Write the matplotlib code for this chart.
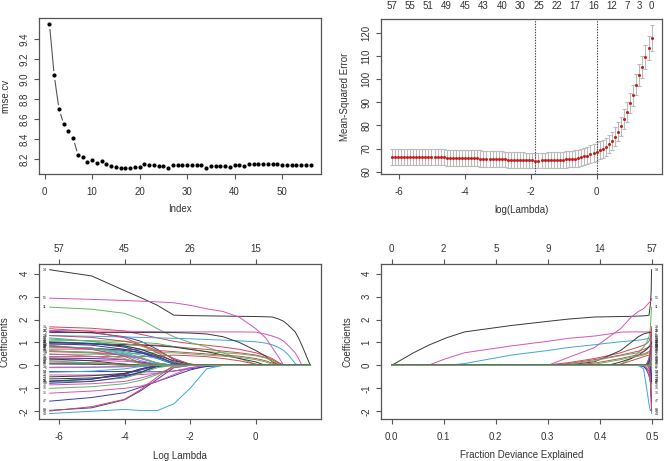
"""glmnet-style diagnostics: CV rmse, cv.glmnet curve and coefficient paths."""
import numpy as np
import matplotlib
matplotlib.use('Agg')
import matplotlib.pyplot as plt

plt.rcParams['font.family'] = ['Liberation Sans', 'DejaVu Sans']
plt.rcParams['axes.unicode_minus'] = False

# ---- top left: rmse.cv by index ----
rmse_cv = [9.553, 9.037, 8.703, 8.55, 8.483, 8.407, 8.243, 8.217, 8.173, 8.187,
           8.163, 8.183, 8.15, 8.127, 8.12, 8.107, 8.11, 8.107, 8.123, 8.123,
           8.147, 8.137, 8.14, 8.127, 8.127, 8.11, 8.14, 8.137, 8.137, 8.137,
           8.137, 8.137, 8.137, 8.11, 8.127, 8.127, 8.127, 8.127, 8.123, 8.14,
           8.14, 8.133, 8.15, 8.147, 8.147, 8.147, 8.147, 8.147, 8.147, 8.14,
           8.14, 8.14, 8.14, 8.14, 8.14, 8.14]

# ---- top right: cv.glmnet curve (lambda sequence, largest first) ----
log_lambda_max = 1.663
log_lambda_step = 0.0928
cv_mean = [117.8, 113.5, 109.5, 105.2, 101.9, 97.6, 93.0, 89.7, 85.8, 82.7,
           79.6, 77.2, 75.2, 73.3, 71.9, 70.7, 69.9, 69.3, 68.7, 68.1,
           67.5, 67.0, 66.6, 66.2, 65.9, 65.7, 65.5, 65.4, 65.3, 65.2,
           65.1, 65.05, 65.0, 65.0, 64.95, 64.9, 64.9, 64.85, 64.85, 64.9,
           64.9, 64.95, 65.0, 65.0, 65.05, 65.1, 65.1, 65.2, 65.3, 65.4,
           65.4, 65.5, 65.5, 65.6, 65.6, 65.7, 65.7, 65.8, 65.8, 65.9,
           65.9, 65.9, 66.0, 66.0, 66.0, 66.1, 66.1, 66.1, 66.2, 66.2,
           66.2, 66.2, 66.3, 66.3, 66.3, 66.3, 66.3, 66.4, 66.4, 66.4,
           66.4, 66.4, 66.4, 66.4, 66.5, 66.5]
cv_sd = [5.7, 5.35, 5.1, 4.9, 4.75, 4.6, 4.5, 4.4, 4.3, 4.2,
         4.15, 4.1, 4.05, 4.0, 4.0, 3.95, 3.95, 3.95, 3.95, 3.9,
         3.85, 3.8, 3.75, 3.7, 3.65, 3.6, 3.55, 3.5, 3.5, 3.45,
         3.45, 3.4, 3.4, 3.4, 3.4, 3.35, 3.35, 3.35, 3.35, 3.35,
         3.35, 3.35, 3.4, 3.4, 3.4, 3.4, 3.4, 3.4, 3.4, 3.45,
         3.45, 3.45, 3.45, 3.45, 3.45, 3.45, 3.5, 3.5, 3.5, 3.5,
         3.5, 3.5, 3.5, 3.5, 3.5, 3.5, 3.5, 3.5, 3.5, 3.5,
         3.5, 3.5, 3.5, 3.5, 3.5, 3.5, 3.5, 3.5, 3.5, 3.5,
         3.5, 3.5, 3.5, 3.5, 3.5, 3.5]
idx_lambda_min = 38
idx_lambda_1se = 18
nz_label_idx = [85, 79, 73, 67, 61, 55, 49, 43, 37, 31, 25, 19, 13, 8, 4, 0]
nz_labels = ['57', '55', '51', '49', '45', '43', '40', '30', '25', '22',
             '17', '16', '12', '7', '3', '0']

# ---- bottom: coefficient paths ----
# log lambda knots (largest first) and deviance ratio at each knot
path_log_lambda = [1.66, 1.5, 1.4, 1.3, 1.2, 1.0, 0.85, 0.7, 0.5, 0.3, 0.0,
                   -0.5, -1.0, -1.5, -2.0, -2.5, -3.0, -3.5, -4.0, -5.0, -6.28]
path_dev_ratio = [0.0, 0.042, 0.072, 0.105, 0.14, 0.23, 0.30, 0.34, 0.39, 0.415,
                  0.44, 0.46, 0.474, 0.484, 0.490, 0.4945, 0.497, 0.498, 0.4987,
                  0.4992, 0.4995]
# each path lists the coefficient from the knot where it enters down to the
# smallest lambda; it is zero at all larger lambdas
coef_tails = [
    [0, .55, .89, 1.2, 1.46, 1.74, 1.92, 2.02, 2.11, 2.12, 2.13, 2.14, 2.15, 2.16, 2.17, 2.19, 2.62, 2.95, 3.26, 3.9, 4.17],
    [0, .02, .12, .3, .42, .55, .7, .8, .88, .95, 1.05, 1.2, 1.35, 1.5, 1.62, 1.68],
    [0, .05, .3, .55, .8, 1.0, 1.25, 1.6, 2.0, 2.27, 2.45, 2.54],
    [0, .05, .25, .7, 1.05, 1.25, 1.42, 1.49],
    [0, .08, .45, .65, .78, .9, .97, 1.03, 1.07, 1.1, 1.13, 1.16, 1.18, 1.2, 1.22, 1.24, 1.27, 1.3],
    [0, .02, .3, .55, .85, 1.05, 1.18, 1.28, 1.36, 1.45, 1.46, 1.46, 1.46, 1.46, 1.46, 1.47, 1.48, 1.49, 1.5, 1.52],
    [0, .02, .16, .4, .65, 1.0, 1.25, 1.37, 1.41, 1.43, 1.43, 1.43, 1.43, 1.43, 1.43],
    [0, .08, .25, .35, .45, .55, .62, .7, .75, .82, .88, .9, .92, .92, .92],
    [0, .05, .2, .32, .42, .5, .55, .6, .7, .82, .95, 1.0, 1.05, 1.08, 1.1],
    [0, -.1, -.6, -1.1, -1.5, -1.85, -1.96],
    [0, .1, .35, .6, .8, 1.05, 1.2],
    [0, .35, .78, 1.2, 1.6, 2.1, 2.35, 2.47, 2.62, 2.73, 2.77, 2.8, 2.83, 2.88, 2.93],
    [0, .15, .3, .45, .6, .7, .8, .85, .88, .9, .95, 1.03],
    [0, .1, .2, .3, .4, .45, .5, .55, .6, .65, .68, .7, .71, .71],
    [0, .05, .15, .25, .35, .4, .45, .5, .55, .55, .52, .5, .49, .48],
    [0, -.05, -.15, -.25, -.28, -.28, -.27, -.27, -.27],
    [0, -.15, -1.0, -1.68, -1.97, -1.97, -1.92, -2.0, -2.1],
    [0, .05, .12, .18, .22, .24],
    [0, .1, .35, .55, .65, .75, .81],
    [0, .05, .2, .3, .38, .42, .45, .4, .38, .38, .38, .38],
    [0, .1, .4, .7, .85, .97, 1.03],
    [0, .05, .3, .55, .7, .88, .95],
    [0, .02, .05, .08, .09],
    [0, -.1, -.25, -.35, -.4, -.42, -.42, -.42],
    [0, -.05, -.3, -.45, -.55, -.59],
    [0, .15, .55, .9, 1.2, 1.48, 1.6],
    [0, .05, .3, .6, .85, .95, 1.05, 1.15],
    [0, -.03, -.2, -.45, -.7, -.95, -1.19, -1.4, -1.56],
    [0, -.03, -.06, -.09, -.1],
    [0, -.1, -.35, -.55, -.7, -.8, -.85],
    [0, -.2, -.35, -.45, -.5],
    [0, .1, .3, .45, .55, .6],
    [0, -.1, -.35, -.55, -.68, -.73],
    [0, -.3, -.5, -.7, -.78],
    [0, .1, .3, .5, .75, .85],
    [0, -.1, -.4, -.7, -.9, -1.0, -1.12, -1.21],
    [0, .05, .2, .45, .7, .85, .95, 1.0],
    [0, .05, .3, .65, .9, 1.05, 1.22, 1.3],
    [0, -.05, -.4, -.65, -.8, -.93, -1.0],
    [0, .05, .15, .25, .3, .32],
    [0, .1, .3, .45, .6, .75, .82],
    [0, .1, .3, .45, .58, .62],
    [0, -.15, -.35, -.6, -.7],
    [0, -.5, -1.05, -1.48, -1.8, -1.99],
    [0, .1, .35, .55, .75, .8],
    [0, .1, .4, .6, .8, .95, 1.0],
    [0, -.05, -.15, -.25, -.3],
    [0, .1, .25, .4, .5],
    [0, .05, .2, .28],
    [0, .05, .12, .15],
    [0, .05, .3, .55, .65],
    [0, -.15, -.4, -.6, -.68],
    [0, .05, .2, .45, .7, .88],
    [0, -.02, -.05, -.07, -.08],
    [0, .02, .05, .06],
    [0, .1, .4, .7, .85],
    [0, .1, .2],
]
coef_labels = [14, 33, 11, 16, 6, 28, 2, 40, 19, 52, 50, 55, 45, 24, 7, 38, 44,
               36, 32, 21, 53, 41, 42, 23, 29, 3, 12, 47, 5, 35, 13, 9, 46, 8,
               34, 31, 37, 18, 15, 39, 43, 48, 25, 20, 17, 30, 54, 22, 1, 27,
               10, 56, 4, 26, 49, 51, 57]
df_lambda_ticks = [-6, -4, -2, 0]
df_lambda_labels = ['57', '45', '26', '15']
df_dev_ticks = [0.0, 0.1, 0.2, 0.3, 0.4, 0.5]
df_dev_labels = ['0', '2', '5', '9', '14', '57']

TEXT = '#333333'
BOX = '#555555'
PALETTE = ['#383838', '#D6455A', '#5CB85C', '#3A3AAA', '#3AA8DA', '#D456B4']
W, H = 664, 461


def r_lim(values):
    lo, hi = np.min(values), np.max(values)
    pad = 0.04 * (hi - lo)
    return lo - pad, hi + pad


def panel(left, top, right, bottom):
    return fig.add_axes([left / W, 1 - bottom / H, (right - left) / W, (bottom - top) / H])


def style(ax, xlabel, ylabel, xlab_y, ylab_x):
    for s in ax.spines.values():
        s.set_color(BOX)
        s.set_linewidth(0.9)
    ax.tick_params(direction='out', length=3.5, width=0.8, color=BOX,
                   labelsize=7, labelcolor=TEXT)
    ax.tick_params(axis='x', pad=6)
    ax.tick_params(axis='y', pad=3.6, labelrotation=90)
    plt.setp(ax.get_yticklabels(), va='center')
    ax.set_xlabel(xlabel, fontsize=7, color=TEXT, va='center')
    ax.set_ylabel(ylabel, fontsize=7, color=TEXT, va='center')
    ax.xaxis.set_label_coords(0.5, xlab_y)
    ax.yaxis.set_label_coords(ylab_x, 0.5)


def top_axis(ax, ticks, labels, tick_len, pad):
    top = ax.twiny()
    top.set_xlim(ax.get_xlim())
    top.set_xticks(ticks)
    top.set_xticklabels(labels)
    top.tick_params(direction='out', length=tick_len, width=0.8, color=BOX,
                    labelsize=7, labelcolor=TEXT, pad=pad)
    for s in top.spines.values():
        s.set_visible(False)


fig = plt.figure(figsize=(W / 100, H / 100), dpi=100)

# top left
ax1 = panel(39, 18, 321, 174)
index = np.arange(1, len(rmse_cv) + 1)
ax1.plot(index, rmse_cv, color='#555555', lw=0.8, zorder=1)
ax1.plot(index, rmse_cv, 'o', ms=6.5, color='white', mec='none', zorder=2)
ax1.plot(index, rmse_cv, 'o', ms=3.0, color='black', mec='none', zorder=3)
ax1.set_xlim(r_lim(index))
ax1.set_ylim(r_lim(rmse_cv))
ax1.set_xticks([0, 10, 20, 30, 40, 50])
ax1.set_yticks([8.2, 8.4, 8.6, 8.8, 9.0, 9.2, 9.4])
ax1.set_yticklabels(['8.2', '8.4', '8.6', '8.8', '9.0', '9.2', '9.4'])
style(ax1, 'Index', 'rmse.cv', -0.224, -0.121)

# top right
ax2 = panel(381.3, 19, 662, 174)
log_lambda = log_lambda_max - log_lambda_step * np.arange(len(cv_mean))
mean = np.array(cv_mean)
sd = np.array(cv_sd)
ax2.errorbar(log_lambda, mean, yerr=sd, fmt='none', ecolor='#BBBBBB',
             elinewidth=0.8, capsize=1.5, capthick=0.8, zorder=1)
ax2.plot(log_lambda, mean, 'o', ms=2.2, color='#CC1A1A', mec='none', zorder=3)
for i in (idx_lambda_min, idx_lambda_1se):
    ax2.axvline(log_lambda[i], color='#444444', lw=0.8, ls=(0, (1.2, 1.2)), zorder=2)
ax2.set_xlim(r_lim(log_lambda))
ax2.set_ylim(r_lim(np.r_[mean - sd, mean + sd]))
ax2.set_xticks([-6, -4, -2, 0])
ax2.set_yticks([60, 70, 80, 90, 100, 110, 120])
style(ax2, 'log(Lambda)', 'Mean-Squared Error', -0.232, -0.128)
top_axis(ax2, log_lambda[nz_label_idx], nz_labels, 0, 6)

# coefficient matrix: zeros before each variable enters
n_knots = len(path_log_lambda)
coefs = np.array([np.r_[np.zeros(n_knots - len(t)), t] for t in coef_tails])
all_vals = coefs.ravel()

# bottom left
ax3 = panel(39.3, 264, 320.7, 419.3)
for i, row in enumerate(coefs):
    ax3.plot(path_log_lambda, row, color=PALETTE[i % 6], lw=0.7)
    ax3.text(path_log_lambda[-1] - 0.1, row[-1], str(coef_labels[i]),
             fontsize=2.6, color=TEXT, ha='right', va='center')
ax3.set_xlim(r_lim(path_log_lambda))
ax3.set_ylim(r_lim(all_vals))
ax3.set_xticks([-6, -4, -2, 0])
ax3.set_yticks([-2, -1, 0, 1, 2, 3, 4])
style(ax3, 'Log Lambda', 'Coefficients', -0.236, -0.122)
top_axis(ax3, df_lambda_ticks, df_lambda_labels, 3.5, 3.6)

# bottom right
ax4 = panel(381.3, 264, 662, 419.3)
for i, row in enumerate(coefs):
    ax4.plot(path_dev_ratio, row, color=PALETTE[i % 6], lw=0.7)
    ax4.text(path_dev_ratio[-1] + 0.006, row[-1], str(coef_labels[i]),
             fontsize=2.6, color=TEXT, ha='left', va='center')
ax4.set_xlim(r_lim(path_dev_ratio))
ax4.set_ylim(r_lim(all_vals))
ax4.set_xticks([0.0, 0.1, 0.2, 0.3, 0.4, 0.5])
ax4.set_xticklabels(['0.0', '0.1', '0.2', '0.3', '0.4', '0.5'])
ax4.set_yticks([-2, -1, 0, 1, 2, 3, 4])
style(ax4, 'Fraction Deviance Explained', 'Coefficients', -0.229, -0.122)
top_axis(ax4, df_dev_ticks, df_dev_labels, 3.5, 3.6)

fig.savefig('out.png', dpi=100, facecolor='white')
